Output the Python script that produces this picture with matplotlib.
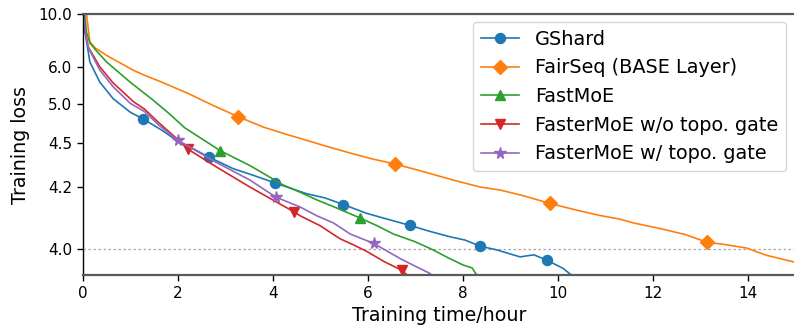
import numpy as np
import matplotlib
matplotlib.use("Agg")
import matplotlib.pyplot as plt

# ---- training-loss curves (loss vs. wall-clock hours) ----
gshard_x = [0.0, 0.03, 0.05, 0.15, 0.36, 0.64, 1.0, 1.27, 1.66, 2.01, 2.3, 2.65, 3.17, 3.6,
            4.05, 4.71, 5.1, 5.49, 5.98, 6.4, 6.89, 7.3, 7.73, 8.05, 8.37, 8.72, 9.21, 9.5,
            9.77, 10.12, 10.33, 10.5]
gshard_y = [20.0, 10.0, 8.0, 6.2, 5.5, 5.11, 4.87, 4.77, 4.63, 4.51, 4.45, 4.38, 4.30, 4.26,
            4.22, 4.17, 4.152, 4.126, 4.095, 4.077, 4.058, 4.042, 4.028, 4.02, 4.006, 3.998,
            3.984, 3.988, 3.978, 3.963, 3.95, 3.94]
gshard_marks = [1.27, 2.65, 4.05, 5.49, 6.89, 8.37, 9.77]

fairseq_x = [0.0, 0.08, 0.12, 0.15, 0.26, 0.5, 1.07, 1.31, 1.63, 2.22, 2.75, 3.28, 3.8, 4.3,
             4.58, 5.1, 5.63, 6.1, 6.58, 7.2, 7.8, 8.37, 8.79, 9.3, 9.84, 10.4, 10.89, 11.3,
             11.6, 12.2, 12.7, 13.14, 13.5, 13.98, 14.4, 14.95, 15.0]
fairseq_y = [20.0, 10.0, 8.2, 7.28, 6.9, 6.5, 5.87, 5.70, 5.52, 5.22, 4.98, 4.80, 4.665, 4.58,
             4.54, 4.47, 4.41, 4.365, 4.33, 4.28, 4.235, 4.20, 4.186, 4.16, 4.13, 4.106, 4.088,
             4.077, 4.065, 4.048, 4.033, 4.015, 4.01, 4.002, 3.987, 3.975, 3.974]
fairseq_marks = [3.28, 6.58, 9.84, 13.14]

fastmoe_x = [0.0, 0.04, 0.08, 0.15, 0.3, 0.5, 1.0, 1.47, 1.8, 2.15, 2.89, 3.52, 4.22, 4.58,
             4.93, 5.3, 5.84, 6.2, 6.54, 7.0, 7.38, 7.7, 8.01, 8.2, 8.3, 8.4]
fastmoe_y = [20.0, 10.0, 8.0, 7.2, 6.7, 6.2, 5.5, 5.09, 4.86, 4.655, 4.43, 4.32, 4.21, 4.176,
             4.144, 4.117, 4.08, 4.057, 4.035, 4.016, 3.998, 3.982, 3.969, 3.964, 3.952, 3.94]
fastmoe_marks = [2.89, 5.84]

faster_nt_x = [0.0, 0.02, 0.05, 0.12, 0.36, 0.64, 1.07, 1.3, 1.6, 2.0, 2.22, 2.82, 3.52, 4.0,
               4.45, 4.58, 5.0, 5.42, 5.7, 5.98, 6.35, 6.72, 6.9]
faster_nt_y = [20.0, 10.0, 8.0, 6.93, 6.0, 5.48, 5.05, 4.92, 4.72, 4.53, 4.44, 4.31, 4.20, 4.144,
               4.10, 4.087, 4.057, 4.023, 4.009, 3.995, 3.975, 3.96, 3.948]
faster_nt_marks = [2.22, 4.45, 6.72]

faster_t_x = [0.0, 0.02, 0.05, 0.12, 0.36, 0.64, 1.0, 1.3, 1.6, 2.01, 2.82, 3.52, 4.07, 4.58,
              4.93, 5.28, 5.63, 6.13, 6.68, 7.0, 7.31, 7.45]
faster_t_y = [20.0, 10.0, 8.0, 6.9, 5.88, 5.38, 5.02, 4.88, 4.69, 4.52, 4.34, 4.235, 4.155, 4.117,
              4.087, 4.065, 4.035, 4.012, 3.981, 3.967, 3.955, 3.945]
faster_t_marks = [2.01, 4.07, 6.13]

labels = ["GShard", "FairSeq (BASE Layer)", "FastMoE",
          "FasterMoE w/o topo. gate", "FasterMoE w/ topo. gate"]
yticks = [4.0, 4.2, 4.5, 5.0, 6.0, 10.0]
xticks = [0, 2, 4, 6, 8, 10, 12, 14]

# ---- stretched loss axis: power transform around an offset ----
C, P = 3.78, 0.25


def fwd(y):
    y = np.asarray(y, dtype=float)
    return -np.power(np.clip(y - C, 1e-4, None), -P)


def inv(v):
    v = np.asarray(v, dtype=float)
    return C + np.power(np.clip(-v, 1e-6, None), -1.0 / P)


def mark_idx(xs, marks):
    xs = np.asarray(xs)
    return [int(np.argmin(np.abs(xs - m))) for m in marks]


fig = plt.figure(figsize=(7.94, 3.27), dpi=100)
ax = fig.add_axes([0.1042, 0.1581, 0.8971, 0.7991])

series = [
    (gshard_x, gshard_y, gshard_marks, "o", 7.2, "tab:blue"),
    (fairseq_x, fairseq_y, fairseq_marks, "D", 7.0, "tab:orange"),
    (fastmoe_x, fastmoe_y, fastmoe_marks, "^", 7.5, "tab:green"),
    (faster_nt_x, faster_nt_y, faster_nt_marks, "v", 7.5, "tab:red"),
    (faster_t_x, faster_t_y, faster_t_marks, "*", 8.5, "tab:purple"),
]
for (xs, ys, mk, m, ms, col), lab in zip(series, labels):
    ax.plot(xs, ys, color=col, lw=1.2, marker=m, ms=ms,
            markevery=mark_idx(xs, mk), label=lab)

ax.axhline(4.0, color="0.65", lw=0.9, ls=(0, (2, 2)), zorder=0)

ax.set_yscale("function", functions=(fwd, inv))
ax.set_ylim(3.952, 10.0)
ax.set_xlim(0, 15)
ax.set_yticks(yticks)
ax.set_yticklabels([f"{t:.1f}" for t in yticks])
ax.yaxis.set_minor_locator(matplotlib.ticker.NullLocator())
ax.set_xticks(xticks)

ax.spines["right"].set_visible(False)
for s in ("top", "bottom"):
    ax.spines[s].set_color("0.35")
    ax.spines[s].set_linewidth(1.6)
ax.spines["left"].set_color("black")
ax.spines["left"].set_linewidth(1.0)
ax.tick_params(axis="both", labelsize=11, length=4, width=1, color="black")

ax.set_ylabel("Training loss", fontsize=13.7, labelpad=6)
ax.set_xlabel("Training time/hour", fontsize=13.7, labelpad=4)

ax.legend(loc="upper right", bbox_to_anchor=(0.987, 0.969), borderaxespad=0,
          fontsize=13.9, handlelength=2.0)

fig.savefig("out.png", dpi=100)
